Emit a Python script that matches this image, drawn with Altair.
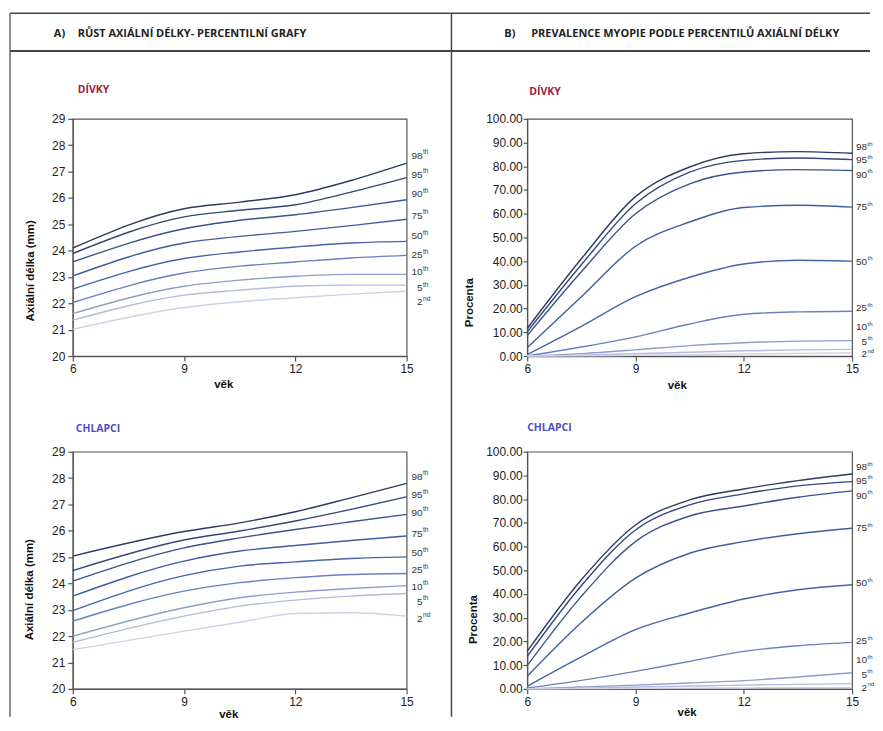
import altair as alt
import pandas as pd

# ---------------- data ----------------
PERCENTILES = ["98", "95", "90", "75", "50", "25", "10", "5", "2"]
SUFFIXES = ["th", "th", "th", "th", "th", "th", "th", "th", "nd"]
LINE_COLORS = ["#2c3b63", "#33477a", "#3a5290", "#3f5ca3", "#4563ad",
               "#6a7fbf", "#8f9dcc", "#b3bbdd", "#cfd2e7"]

AGES_AXIAL = [6, 9, 10.5, 12, 13.5, 15]
AGES_PREV = [6, 7.5, 9, 10.5, 12, 13.5, 15]

GIRLS_AXIAL = [
    [24.10, 25.59, 25.84, 26.12, 26.66, 27.32],
    [23.89, 25.28, 25.53, 25.74, 26.22, 26.77],
    [23.57, 24.83, 25.15, 25.36, 25.63, 25.93],
    [23.04, 24.29, 24.54, 24.73, 24.95, 25.19],
    [22.54, 23.70, 23.95, 24.14, 24.29, 24.35],
    [22.03, 23.15, 23.41, 23.57, 23.72, 23.82],
    [21.61, 22.65, 22.88, 23.03, 23.10, 23.10],
    [21.36, 22.31, 22.50, 22.65, 22.69, 22.69],
    [21.01, 21.84, 22.06, 22.21, 22.35, 22.46],
]
BOYS_AXIAL = [
    [25.04, 25.97, 26.30, 26.72, 27.25, 27.80],
    [24.49, 25.65, 25.99, 26.37, 26.81, 27.29],
    [24.09, 25.35, 25.73, 26.05, 26.34, 26.62],
    [23.52, 24.85, 25.23, 25.44, 25.63, 25.80],
    [22.97, 24.30, 24.66, 24.82, 24.95, 25.01],
    [22.57, 23.71, 24.03, 24.22, 24.34, 24.38],
    [22.00, 23.08, 23.46, 23.67, 23.81, 23.92],
    [21.77, 22.76, 23.14, 23.37, 23.52, 23.62],
    [21.49, 22.19, 22.53, 22.86, 22.89, 22.76],
]
GIRLS_PREV = [
    [11.6, 41.0, 67.2, 79.7, 85.3, 86.2, 85.5],
    [10.2, 38.5, 64.2, 77.5, 82.5, 83.5, 82.8],
    [8.6, 35.5, 60.0, 72.6, 77.6, 78.6, 78.2],
    [3.5, 25.0, 46.3, 56.5, 62.6, 63.6, 62.8],
    [0.6, 12.5, 25.0, 33.2, 38.8, 40.4, 40.0],
    [0.0, 3.8, 8.1, 13.5, 17.6, 18.6, 18.9],
    [0.0, 1.0, 2.6, 4.4, 5.6, 6.3, 6.5],
    [0.0, 0.4, 1.0, 1.6, 2.2, 2.6, 2.8],
    [0.0, 0.1, 0.3, 0.6, 0.9, 1.1, 1.3],
]
BOYS_PREV = [
    [15.8, 46.0, 69.1, 79.7, 84.3, 87.8, 90.6],
    [13.7, 43.5, 67.0, 77.6, 82.2, 85.6, 87.4],
    [9.8, 39.0, 62.1, 72.9, 77.1, 80.8, 83.5],
    [5.3, 28.0, 46.7, 57.2, 62.1, 65.4, 67.7],
    [1.1, 13.5, 25.0, 32.0, 37.9, 41.8, 43.9],
    [0.3, 3.6, 7.4, 11.6, 15.8, 18.2, 19.6],
    [0.0, 0.8, 1.6, 2.5, 3.5, 5.0, 6.8],
    [0.0, 0.3, 0.8, 1.2, 1.6, 1.9, 2.2],
    [0.0, 0.1, 0.2, 0.3, 0.4, 0.5, 0.5],
]

# vertical positions (in data units) of the percentile labels on the right
GIRLS_AXIAL_LABEL_Y = [27.60, 26.88, 26.13, 25.33, 24.54, 23.82, 23.18, 22.57, 22.04]
BOYS_AXIAL_LABEL_Y = [28.05, 27.35, 26.68, 25.89, 25.14, 24.51, 23.87, 23.30, 22.67]
GIRLS_PREV_LABEL_Y = [88.1, 82.5, 76.4, 62.8, 39.7, 20.1, 12.1, 6.0, 0.8]
BOYS_PREV_LABEL_Y = [93.4, 87.7, 81.5, 67.7, 44.6, 20.1, 12.1, 6.0, 0.4]

AXIAL_TICKS = list(range(20, 30))
PREV_TICKS = list(range(0, 101, 10))
AGE_TICKS = [6, 9, 12, 15]

HEADER_A = ["A)", "RŮST AXIÁLNÍ DÉLKY- PERCENTILNÍ GRAFY"]
HEADER_B = ["B)", "PREVALENCE MYOPIE PODLE PERCENTILŮ AXIÁLNÍ DÉLKY"]

LABEL_FONT = "Liberation Sans"
HEAD_FONT = "Open Sans"
GIRLS_COLOR = "#9e1c3e"
BOYS_COLOR = "#4b4fc6"
BORDER = "#444444"


def one_row():
    return alt.Data(values=[{"a": 1}])


def text_at(txt, x, y, color="#222222", size=11, font=HEAD_FONT, weight="bold"):
    return alt.Chart(one_row()).mark_text(
        text=txt, align="left", baseline="middle", font=font,
        fontSize=size, fontWeight=weight, color=color
    ).encode(x=alt.value(x), y=alt.value(y))


def panel(ages, series, label_y, domain, ticks, fmt, ytitle, ytx, yty, xtx, xty,
          sub, sub_color, sub_x, sub_y, width, height, lbl_x, tick_size, lbl_pad,
          sup_size, extra):
    rows = []
    for p, vals in zip(PERCENTILES, series):
        for a, v in zip(ages, vals):
            rows.append({"age": a, "value": v, "pct": p})
    df = pd.DataFrame(rows)
    lab = pd.DataFrame({"pct": PERCENTILES, "sup": SUFFIXES, "value": label_y})

    xscale = alt.Scale(domain=[6, 15], nice=False, zero=False)
    yscale = alt.Scale(domain=domain, nice=False, zero=False)
    yaxis = alt.Axis(values=ticks, format=fmt, title=ytitle,
                     titleX=ytx, titleY=yty, titleBaseline="middle",
                     titleAlign="center", titleAngle=-90, labelFlush=False,
                     tickSize=tick_size, labelPadding=lbl_pad)
    yenc = alt.Y("value:Q", scale=yscale, axis=yaxis)

    lines = alt.Chart(df).mark_line(interpolate="monotone", strokeWidth=1.4).encode(
        x=alt.X("age:Q", scale=xscale,
                axis=alt.Axis(values=AGE_TICKS, title="věk", format="d",
                              labelFlush=False,
                              titleX=xtx, titleY=xty, titleBaseline="middle",
                              titleAlign="center")),
        y=yenc,
        color=alt.Color("pct:N", scale=alt.Scale(domain=PERCENTILES, range=LINE_COLORS),
                        legend=None),
        detail="pct:N",
    )
    nums = alt.Chart(lab).mark_text(
        align="right", baseline="middle", font=LABEL_FONT, fontSize=10, color="#333333"
    ).encode(x=alt.value(lbl_x), y=yenc, text="pct:N")
    sups = alt.Chart(lab).mark_text(
        align="left", baseline="middle", dy=-3.5, font=LABEL_FONT, fontSize=sup_size,
        color="#333333"
    ).encode(x=alt.value(lbl_x + 0.5), y=yenc, text="sup:N")
    subtitle = text_at(sub, sub_x, sub_y, color=sub_color, size=10.5)
    layers = [lines, nums, sups, subtitle] + extra
    return alt.layer(*layers).properties(width=width, height=height)


# table borders & headers (positioned relative to the top-left plot area)
def hrule(x1, x2, y, w=1.5):
    return alt.Chart(one_row()).mark_rule(color=BORDER, strokeWidth=w).encode(
        x=alt.value(x1), x2=alt.value(x2), y=alt.value(y))


def vrule(x, y1, y2, w=1.5):
    return alt.Chart(one_row()).mark_rule(color=BORDER, strokeWidth=w).encode(
        x=alt.value(x), y=alt.value(y1), y2=alt.value(y2))


tl_extra = [
    hrule(-63, 800, -106),
    hrule(-63, 800, -68, 2),
    vrule(-63, -106, 600, 1.2),
    vrule(380, -106, 600),
    text_at(HEADER_A[0], -19, -85),
    text_at(HEADER_A[1], 5, -85),
]
tr_extra = [
    text_at(HEADER_B[0], -23, -85),
    text_at(HEADER_B[1], 4, -85),
]

tl = panel(AGES_AXIAL, GIRLS_AXIAL, GIRLS_AXIAL_LABEL_Y, [20, 29], AXIAL_TICKS, "d",
           "Axiální délka (mm)", -42, 152, 151, 29,
           "DÍVKY", GIRLS_COLOR, 5, -29, 335, 238, 351, 5, 3, 6.5, tl_extra)
tr = panel(AGES_PREV, GIRLS_PREV, GIRLS_PREV_LABEL_Y, [0, 100], PREV_TICKS, ".2f",
           "Procenta", -58, 184, 150, 30,
           "DÍVKY", GIRLS_COLOR, 2, -27, 326, 238, 341, 4, 1, 6, tr_extra)
bl = panel(AGES_AXIAL, BOYS_AXIAL, BOYS_AXIAL_LABEL_Y, [20, 29], AXIAL_TICKS, "d",
           "Axiální délka (mm)", -43, 138, 156, 26,
           "CHLAPCI", BOYS_COLOR, 3, -23, 335, 238, 351, 5, 3, 6.5, [])
br = panel(AGES_PREV, BOYS_PREV, BOYS_PREV_LABEL_Y, [0, 100], PREV_TICKS, ".2f",
           "Procenta", -54, 168, 160, 24,
           "CHLAPCI", BOYS_COLOR, 0, -24, 326, 238, 341, 4, 1, 6, [])

chart = alt.concat(
    tl, tr, bl, br, columns=2, spacing={"row": 96, "column": 121}, bounds="flush"
).properties(
    padding={"left": 0, "top": 2, "right": 0, "bottom": 0}
).configure_view(
    stroke="#555555", strokeWidth=1.2
).configure_axis(
    grid=False, domainColor="#555555", domainWidth=1.2, tickColor="#555555",
    tickWidth=1.2, labelFont=LABEL_FONT, labelFontSize=12, labelColor="#222222",
    titleFont=LABEL_FONT, titleFontSize=11.5, titleFontWeight="bold", titleColor="#111111"
).configure_axisX(
    tickSize=5, labelPadding=3
)

chart.save("out.html", embed_options={"renderer": "svg", "actions": False})
